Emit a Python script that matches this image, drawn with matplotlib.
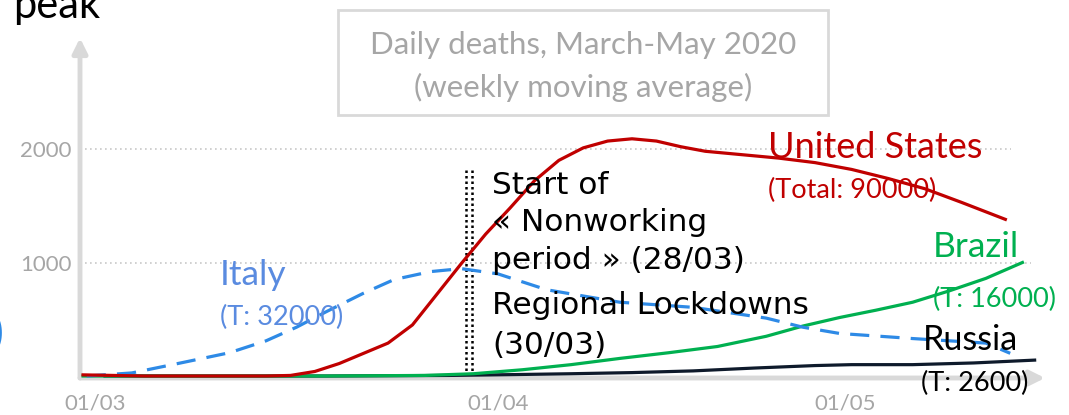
import matplotlib.pyplot as plt
from matplotlib.patches import Rectangle

W, H = 1069, 415

# days since 1 March 2020, daily deaths (weekly moving average)
us_days = [0, 5, 10, 15, 17, 19, 21, 23, 25, 27, 29, 31, 33, 35, 37, 39, 41, 43, 45,
           47, 49, 51, 54, 57, 60, 63, 66, 69, 72, 75.6]
us_vals = [10, 0, 0, 0, 5, 40, 110, 200, 290, 450, 720, 990, 1250, 1480, 1720, 1900,
           2010, 2070, 2090, 2070, 2020, 1980, 1950, 1920, 1880, 1820, 1740, 1650, 1530, 1380]

italy_days = [0.3, 4, 8, 12, 15, 17.5, 20, 23, 25.5, 28.5, 31, 34, 38, 44, 50, 56, 59,
              62, 68, 74, 76]
italy_vals = [0, 27, 115, 205, 310, 430, 570, 730, 850, 920, 946, 900, 760, 650, 605,
              510, 430, 375, 330, 290, 200]

brazil_days = [0, 10, 20, 28, 32, 36, 40, 44, 48, 52, 56, 59, 62, 65, 68, 71, 74, 77]
brazil_vals = [0, 0, 0, 5, 20, 55, 100, 155, 205, 260, 350, 440, 515, 580, 650, 750, 860, 1000]

russia_days = [1.8, 10, 20, 30, 35, 40, 45, 50, 55, 60, 63, 68, 73, 78]
russia_vals = [0, 0, 0, 5, 12, 20, 30, 45, 70, 92, 100, 100, 115, 140]

tick_days = [1, 34, 62.5]
tick_labels = ["01/03", "01/04", "01/05"]
event_days = [31.4, 31.9]   # 28/03 and 30/03 markers as drawn

GRAY = "#A6A6A6"
AXIS = "#D9D9D9"
RED = "#C00000"
BLUE = "#2E8AE6"
GREEN = "#00B050"
NAVY = "#0E1A2B"

plt.rcParams['font.family'] = ['Lato', 'DejaVu Sans']

fig = plt.figure(figsize=(W / 100, H / 100), dpi=100)
ax = fig.add_axes([80 / W, 1 - 378 / H, 965 / W, 340 / H])
ax.set_xlim(-0.25, 78.85)
ax.set_ylim(-17.6, 2978)
for s in ax.spines.values():
    s.set_visible(False)

# axes drawn as grey arrows
arrow = dict(arrowstyle='-|>', color=AXIS, lw=3.5, mutation_scale=22, shrinkA=0, shrinkB=0)
ax.annotate('', xy=(1, 0), xytext=(0, 0), xycoords='axes fraction', arrowprops=arrow)
ax.annotate('', xy=(0, 1), xytext=(0, 0), xycoords='axes fraction', arrowprops=arrow)

ax.axhline(1000, xmin=0.005, xmax=0.985, color='#C8C8C8', lw=1.2, ls=(0, (1, 2)), zorder=0)
ax.axhline(2000, xmin=0.005, xmax=0.965, color='#C8C8C8', lw=1.2, ls=(0, (1, 2)), zorder=0)

ax.set_yticks([1000, 2000])
ax.set_yticklabels(["1000", "2000"])
ax.set_xticks(tick_days)
ax.set_xticklabels(tick_labels)
ax.tick_params(length=0, labelsize=16, labelcolor=GRAY)
ax.tick_params(axis='x', pad=11.5)
ax.tick_params(axis='y', pad=6)

for d in event_days:
    ax.plot([d, d], [0, 1820], color='black', lw=1.8, ls=(0, (1, 1.2)), zorder=2)

ax.plot(russia_days, russia_vals, color=NAVY, lw=2.3, zorder=3)
ax.plot(brazil_days, brazil_vals, color=GREEN, lw=2.3, zorder=3)
ax.plot(italy_days, italy_vals, color=BLUE, lw=2.3, ls=(0, (6, 3.5)), zorder=3)
ax.plot(us_days, us_vals, color=RED, lw=2.3, zorder=4)


def px(x, y):
    return x / W, 1 - y / H


# title box
fig.patches.append(Rectangle(px(338, 115), 490 / W, 105 / H, transform=fig.transFigure,
                             fill=False, ec=AXIS, lw=2))
fig.text(*px(583, 45), "Daily deaths, March-May 2020", color=GRAY, fontsize=22.5,
         ha='center', va='center')
fig.text(*px(583, 87), "(weekly moving average)", color=GRAY, fontsize=22.5,
         ha='center', va='center')

# country labels
big, small = 25.5, 19.5
fig.text(*px(768, 148), "United States", color=RED, fontsize=26, va='center')
fig.text(*px(768, 190), "(Total: 90000)", color=RED, fontsize=small, va='center')
fig.text(*px(220, 275), "Italy", color="#5A8BE0", fontsize=big, va='center')
fig.text(*px(220, 317), "(T: 32000)", color="#5A8BE0", fontsize=small, va='center')
fig.text(*px(933, 247), "Brazil", color=GREEN, fontsize=big, va='center')
fig.text(*px(933, 299), "(T: 16000)", color=GREEN, fontsize=small, va='center')
fig.text(*px(923, 340), "Russia", color='black', fontsize=24.5, va='center')
fig.text(*px(921, 383), "(T: 2600)", color='black', fontsize=small, va='center')

ann = dict(color='black', fontsize=22.5, family=['DejaVu Sans'], va='center')
fig.text(*px(492, 185), "Start of", **ann)
fig.text(*px(492, 222), "\u00ab Nonworking", **ann)
fig.text(*px(492, 260), "period \u00bb (28/03)", **ann)
fig.text(*px(492, 305), "Regional Lockdowns", **ann)
fig.text(*px(492, 345), "(30/03)", **ann)

# fragments cut off at the slide edges, as in the source slide
fig.text(*px(13, 18), "peak", color='black', fontsize=30, va='baseline')
fig.text(*px(-8, 332), ")", color=BLUE, fontsize=30, fontweight='bold', va='center')

fig.savefig("out.png", dpi=100)
